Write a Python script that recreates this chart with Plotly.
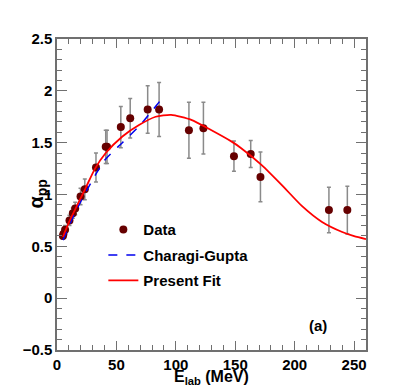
import plotly.graph_objects as go

# Data points
data_x = [5.0, 5.4, 6.8, 10.5, 13.3, 15.3, 19.8, 23.4, 32.8, 41.0, 42.1, 53.7, 61.6, 76.3, 85.9,
          111.0, 123.2, 148.9, 163.0, 171.2, 228.8, 244.3]
data_y = [0.60, 0.62, 0.66, 0.75, 0.82, 0.865, 0.98, 1.05, 1.26, 1.46, 1.46, 1.65, 1.736, 1.82, 1.82,
          1.62, 1.64, 1.37, 1.39, 1.17, 0.85, 0.85]
data_err = [0.03, 0.03, 0.04, 0.05, 0.05, 0.06, 0.08, 0.10, 0.14, 0.16, 0.16, 0.20, 0.19, 0.23, 0.26,
            0.27, 0.25, 0.145, 0.13, 0.24, 0.22, 0.23]

# Charagi-Gupta curve
cg_x = [5, 15, 25, 40, 55, 70, 90]
cg_y = [0.56, 0.82, 1.04, 1.33, 1.50, 1.67, 1.95]

# Present fit curve
fit_x = [5, 10, 15, 24, 32, 41, 55, 69, 83, 96, 113, 130, 147, 155, 172, 189, 206, 223, 240, 250, 260]
fit_y = [0.59, 0.73, 0.85, 1.06, 1.25, 1.40, 1.56, 1.67, 1.75, 1.768, 1.72, 1.62, 1.51, 1.447, 1.286,
         1.093, 0.89, 0.735, 0.638, 0.598, 0.57]

FONT = "Liberation Sans"
FRAME = "#707070"

fig = go.Figure()
fig.add_trace(go.Scatter(
    x=data_x, y=data_y, mode="markers", name="<b>Data</b>",
    marker=dict(color="#660000", size=8),
    error_y=dict(type="data", array=data_err, color="#8a8a8a", thickness=1.5, width=2),
    legendgroup="a"))
fig.add_trace(go.Scatter(
    x=cg_x, y=cg_y, mode="lines", name="<b>Charagi-Gupta</b>",
    line=dict(color="#0000ee", width=1.5, dash="dash", shape="spline", smoothing=0.6),
    legendgroup="b"))
fig.add_trace(go.Scatter(
    x=fit_x, y=fit_y, mode="lines", name="<b>Present Fit</b>",
    line=dict(color="#ff0000", width=1.8, shape="spline", smoothing=0.6),
    legendgroup="c"))

axis_common = dict(
    showline=True, linecolor=FRAME, linewidth=1.5, mirror="allticks",
    ticks="inside", tickcolor=FRAME, tickwidth=1.2,
    showgrid=False, zeroline=False, automargin=False,
    tickfont=dict(family=FONT, size=15, color="black", weight="bold"),
)

fig.update_xaxes(range=[0, 260], dtick=50, tick0=0, ticklen=9,
                 minor=dict(ticks="inside", dtick=10, ticklen=5, tickcolor=FRAME, tickwidth=1.2),
                 **axis_common)
fig.update_yaxes(range=[-0.5, 2.5], dtick=0.5, tick0=0, ticklen=10,
                 minor=dict(ticks="inside", dtick=0.1, ticklen=5, tickcolor=FRAME, tickwidth=1.2),
                 **axis_common)

# axis titles placed as in the reference
fig.add_annotation(x=0, y=0.5, xref="paper", yref="paper", xanchor="center", yanchor="middle",
                   xshift=-20, textangle=-90, text="<b>α<sub>pp</sub></b>", showarrow=False,
                   font=dict(family=FONT, size=20, color="black"))
fig.add_annotation(x=0.5, y=0, xref="paper", yref="paper", xanchor="center", yanchor="middle",
                   yshift=-27, text="<b>E<sub>lab</sub> (MeV)</b>", showarrow=False,
                   font=dict(family=FONT, size=16, color="black"))

fig.add_annotation(x=0.845, y=0.08, xref="paper", yref="paper", xanchor="center", yanchor="middle",
                   text="<b>(a)</b>", showarrow=False, font=dict(family=FONT, size=15, color="black"))

# page body adds an 8px offset; compensate so the plot frame sits where the reference has it
fig.update_layout(
    width=399, height=382,
    margin=dict(l=49, r=41, t=31, b=40),
    paper_bgcolor="white", plot_bgcolor="white",
    showlegend=True,
    legend=dict(x=0.15, y=0.44, xanchor="left", yanchor="top",
                font=dict(family=FONT, size=15, color="black"),
                bgcolor="rgba(0,0,0,0)", traceorder="grouped", tracegroupgap=3,
                itemwidth=30),
)

fig.write_html("out.html")
